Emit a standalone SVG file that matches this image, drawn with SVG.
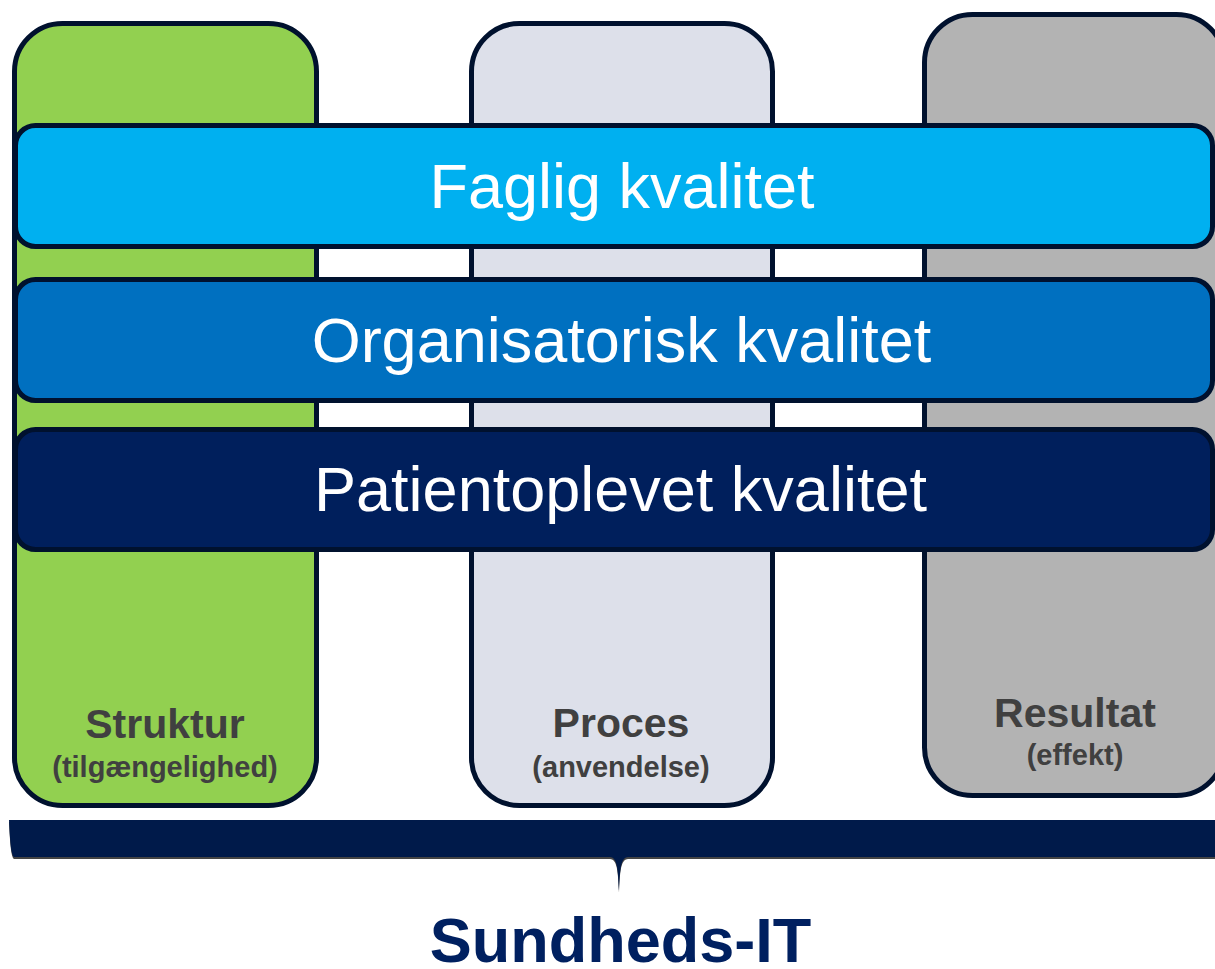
<svg xmlns="http://www.w3.org/2000/svg" width="1215" height="969" viewBox="0 0 1215 969">
<style>
.col{stroke:#00112E;stroke-width:5}
.bar{stroke:#00112E;stroke-width:5}
.bt{font-family:"Liberation Sans",Arial,sans-serif;font-size:63px;fill:#FFFFFF;text-anchor:middle}
.ct{font-family:"Liberation Sans",Arial,sans-serif;font-weight:bold;fill:#404040;text-anchor:middle}
</style>
<rect width="1215" height="969" fill="#FFFFFF"/>
<g id="col-struktur">
<rect class="col" x="14.5" y="23.5" width="302" height="782" rx="48" fill="#92D050"/>
<text class="ct" x="165" y="738" font-size="41">Struktur</text>
<text class="ct" x="165" y="777" font-size="29">(tilgængelighed)</text>
</g>
<g id="col-proces">
<rect class="col" x="471.5" y="23.5" width="301" height="782" rx="48" fill="#DDE0EA"/>
<text class="ct" x="621" y="737" font-size="41">Proces</text>
<text class="ct" x="621" y="777" font-size="29">(anvendelse)</text>
</g>
<g id="col-resultat">
<rect class="col" x="924.5" y="14.5" width="300" height="781" rx="48" fill="#B3B3B3"/>
<text class="ct" x="1075" y="727" font-size="41">Resultat</text>
<text class="ct" x="1075" y="765" font-size="29">(effekt)</text>
</g>
<g id="bar-faglig">
<rect class="bar" x="15.5" y="125.5" width="1197" height="121" rx="20" fill="#00B0F0"/>
<text class="bt" x="622" y="208">Faglig kvalitet</text>
</g>
<g id="bar-organisatorisk">
<rect class="bar" x="15.5" y="279.5" width="1197" height="121" rx="20" fill="#0070C0"/>
<text class="bt" x="621.5" y="362">Organisatorisk kvalitet</text>
</g>
<g id="bar-patient">
<rect class="bar" x="15.5" y="429.5" width="1197" height="120" rx="20" fill="#001F5C"/>
<text class="bt" x="620.5" y="511">Patientoplevet kvalitet</text>
</g>
<g id="connectors">
<path d="M9,822 L1220,822 L1220,859 L628,859 C622,860 620,865 619,893 C618,865 616,860 610,859 L14,859 C11,857 10,842 9,822 Z" fill="#444444"/>
<path d="M9,820 L1220,820 L1220,857 L628,857 C622,858 620,863 619,891 C618,863 616,858 610,857 L14,857 C11,855 10,840 9,820 Z" fill="#001A4A"/>
</g>
<g id="label-sundheds-it">
<text x="620.5" y="962" font-family="'Liberation Sans',Arial,sans-serif" font-weight="bold" font-size="63" fill="#002060" text-anchor="middle">Sundheds-IT</text>
</g>
</svg>
